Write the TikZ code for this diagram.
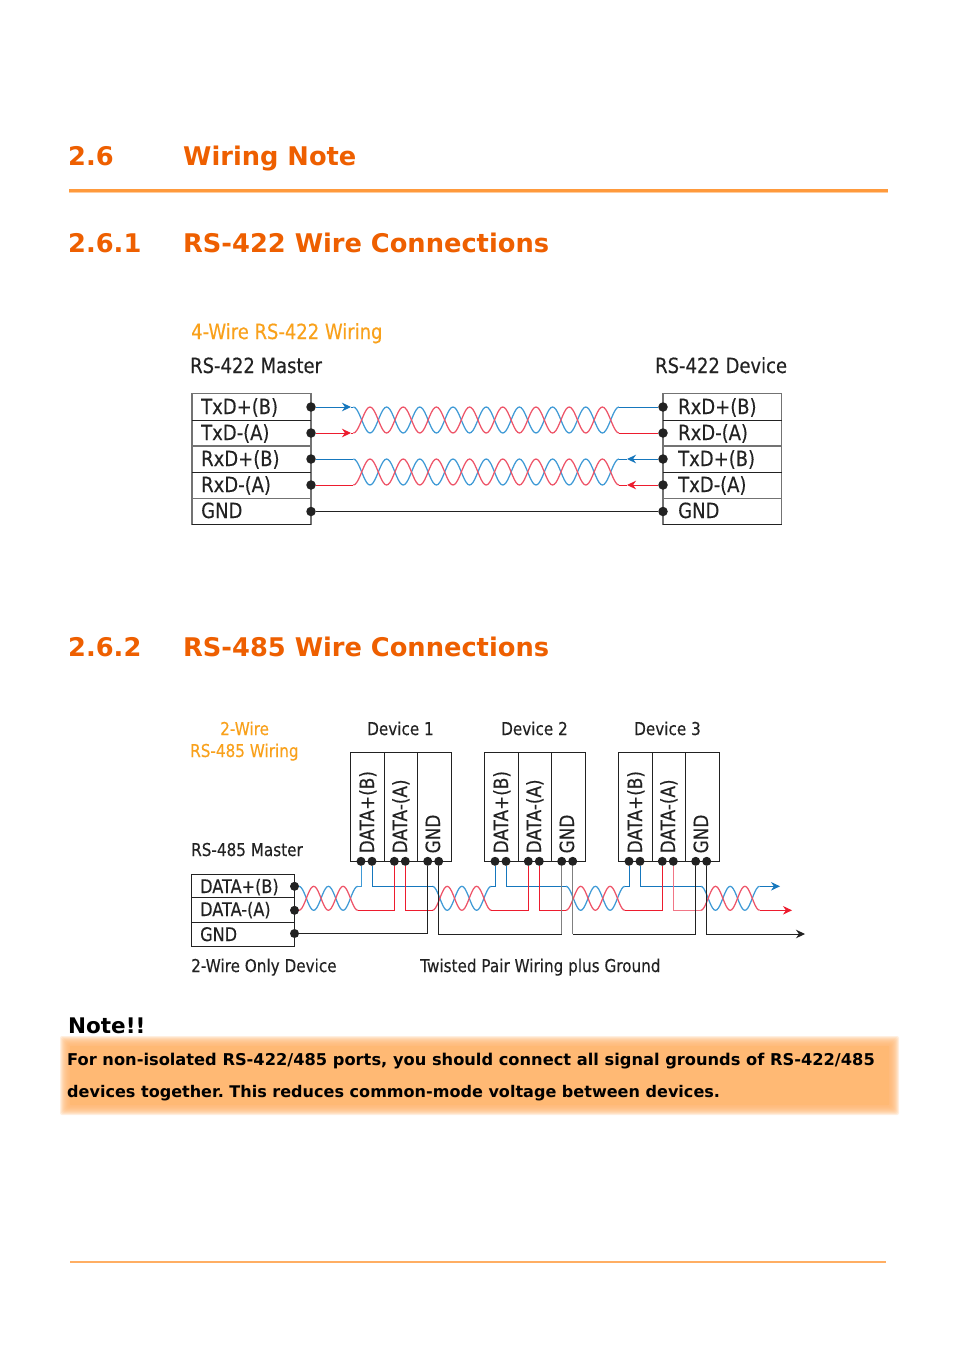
\documentclass[tikz,border=0pt]{standalone}
\usepackage{fontspec}
\setmainfont{DejaVu Sans}
\newfontfamily\diagf[FakeStretch=0.86,FakeBold=0.25]{DejaVu Sans}
\usetikzlibrary{arrows.meta}
\definecolor{headc}{HTML}{EE5F00}
\definecolor{rulec}{HTML}{FF9A3C}
\definecolor{titc}{HTML}{F9A11B}
\definecolor{wblue}{HTML}{1677BD}
\definecolor{wred}{HTML}{ED1C2E}
\definecolor{tblue}{HTML}{3F9AD6}
\definecolor{tred}{HTML}{EE5468}
\definecolor{ink}{HTML}{222222}
\definecolor{notec}{HTML}{FFB974}
\tikzset{
  x=1pt,y=-1pt,
  head/.style={anchor=base west,inner sep=0,text=headc,font=\fontsize{25.7}{25}\selectfont\bfseries},
  dtxt/.style={anchor=base west,inner sep=0,text=ink,font=\diagf\fontsize{20.9}{20}\selectfont},
  dtxs/.style={anchor=base west,inner sep=0,text=ink,font=\diagf\fontsize{17.7}{20}\selectfont},
  dtxm/.style={dtxs,font=\diagf\fontsize{18.7}{20}\selectfont},
  dtit/.style={dtxt,text=titc},
  dtis/.style={dtxs,text=titc},
  rtxt/.style={anchor=base west,inner sep=0,text=ink,rotate=90,font=\diagf\fontsize{19.6}{20}\selectfont},
  dot/.style={circle,fill=ink,draw=none,inner sep=0,minimum size=9.5pt},
  dots/.style={dot,minimum size=9pt},
  box/.style={draw=ink,line width=1pt},
  boxg/.style={draw=black!55,line width=1.1pt},
  bw/.style={draw=wblue,line width=1pt},
  rw/.style={draw=wred,line width=1pt},
  gw/.style={draw=ink,line width=1pt},
  gg/.style={draw=black!50,line width=1pt},
  bwl/.style={draw=tblue,line width=1pt},
  rwl/.style={draw=tred!80,line width=1pt},
  tipb/.style={-{Stealth[length=9pt,width=8.5pt]},draw=wblue,line width=1pt},
  tipr/.style={-{Stealth[length=9pt,width=8.5pt]},draw=wred,line width=1pt},
  tipk/.style={-{Stealth[length=9pt,width=8.5pt]},draw=ink,line width=1pt},
}
% name, x0, ytop, ybot, half periods, half period length
\newcommand{\twistpair}[6]{%
  \pgfmathsetmacro{\xend}{#2+#5*#6}
  \pgfmathsetmacro{\ymid}{(#3+#4)/2}
  \pgfmathsetmacro{\amp}{(#4-#3)/2}
  \pgfmathtruncatemacro{\nsam}{#5*10+1}
  \draw[tblue,line width=1.25pt] plot[domain=0:#5,samples=\nsam,smooth] ({#2+\x*#6},{\ymid-\amp*cos(180*\x)});
  \draw[tred,line width=1.25pt] plot[domain=0:#5,samples=\nsam,smooth] ({#2+\x*#6},{\ymid+\amp*cos(180*\x)});
  \coordinate (#1tl) at (#2,#3);
  \coordinate (#1bl) at (#2,#4);
  \coordinate (#1tr) at (\xend,#3);
  \coordinate (#1br) at (\xend,#4);
}
\begin{document}
\begin{tikzpicture}
\frenchspacing
\useasboundingbox (0,0) rectangle (954,1350);
\fill[white] (0,0) rectangle (954,1350);
% headings
\node[head] (h1n) at (68,165) {2.6};
\node[head] (h1t) at (183,165) {Wiring Note};
\draw[rulec!50,line width=4pt] (69,190.5) -- (888,190.5);
\draw[rulec,line width=2.4pt] (69,190.5) -- (888,190.5);
\node[head] (h2n) at (68,252) {2.6.1};
\node[head] (h2t) at (183,252) {RS-422 Wire Connections};
\node[head] (h3n) at (68,656) {2.6.2};
\node[head] (h3t) at (183,656) {RS-485 Wire Connections};
% ---------- RS-422
\node[dtit] (t422) at (191,339) {4-Wire RS-422 Wiring};
\node[dtxt] (m422) at (190,373) {RS-422 Master};
\node[dtxt] (d422) at (655,373) {RS-422 Device};
% left box
\draw[boxg] (192,525) -- (192,393.7) -- (311,393.7) -- (311,525);
\draw[box] (192,420.3) -- (311,420.3) (192,472.3) -- (311,472.3) (192,524.7) -- (311,524.7);
\draw[boxg] (192,446) -- (311,446) (192,498.7) -- (311,498.7);
% right box
\draw[boxg] (663,525) -- (663,393.7) -- (781.7,393.7) -- (781.7,525);
\draw[box] (663,420.3) -- (781.7,420.3) (663,472.3) -- (781.7,472.3) (663,524.7) -- (781.7,524.7);
\draw[boxg] (663,446) -- (781.7,446) (663,498.7) -- (781.7,498.7);
\foreach \n/\y/\s in {a/414/TxD+(B),b/440/TxD-(A),c/466/RxD+(B),d/492/RxD-(A),e/518/GND}{
  \node[dtxt] (l\n) at (201,\y) {\s};
}
\foreach \n/\y/\s in {a/414/RxD+(B),b/440/RxD-(A),c/466/TxD+(B),d/492/TxD-(A),e/518/GND}{
  \node[dtxt] (r\n) at (678,\y) {\s};
}
\foreach \n/\y in {a/407,b/433,c/459,d/485,e/511.5}{
  \node[dot] (dl\n) at (311,\y) {};
  \node[dot] (dr\n) at (663,\y) {};
}
\twistpair{ta}{353.4}{407}{433}{16}{16.6}
\twistpair{tb}{353.4}{459}{485}{16}{16.6}
\coordinate (aa) at (351,407);
\coordinate (ab) at (351,433);
\coordinate (ac) at (627,459);
\coordinate (ad) at (627,485);
\draw[tipb] (dla) -- (aa);
\draw[bw] (aa) -- (tatl);
\draw[tipr] (dlb) -- (ab);
\draw[rw] (ab) -- (tabl);
\draw[bw] (dlc) -- (tbtl);
\draw[rw] (dld) -- (tbbl);
\draw[bw] (tatr) -- (dra);
\draw[rw] (tabr) -- (drb);
\draw[tipb] (drc) -- (ac);
\draw[bw] (ac) -- (tbtr);
\draw[tipr] (drd) -- (ad);
\draw[rw] (ad) -- (tbbr);
\draw[gw] (dle) -- (dre);
% ---------- RS-485
\node[dtis] (t485a) at (220,735) {2-Wire};
\node[dtis] (t485b) at (190,757) {RS-485 Wiring};
\node[dtxs] (m485) at (191,856) {RS-485 Master};
\node[dtxs] (dv1) at (367,735) {Device 1};
\node[dtxs] (dv2) at (501,735) {Device 2};
\node[dtxs] (dv3) at (634,735) {Device 3};
\node[dtxs] (only) at (191,972) {2-Wire Only Device};
\node[dtxs] (twp) at (420,972) {Twisted Pair Wiring plus Ground};
% master box
\draw[box] (191.3,874) rectangle (294,946.5);
\draw[box] (191.3,897.3) -- (294,897.3) (191.3,922) -- (294,922);
\node[dtxm] (ma) at (200,893) {DATA+(B)};
\node[dtxm] (mb) at (200,916) {DATA-(A)};
\node[dtxm] (mc) at (200,941) {GND};
\node[dots] (mda) at (294.5,886.3) {};
\node[dots] (mdb) at (294.5,910.3) {};
\node[dots] (mdc) at (294.5,933.5) {};
% devices
\foreach \k/\x in {1/350,2/484,3/618}{
  \draw[box] (\x,861.3) -- (\x,752.5) -- (\x+101,752.5) -- (\x+101,861.3) -- cycle;
  \draw[box] (\x+34,752.5) -- (\x+34,861.3) (\x+67,752.5) -- (\x+67,861.3);
  \node[rtxt] (da\k) at (\x+24,853.5) {DATA+(B)};
  \node[rtxt] (db\k) at (\x+57,853.5) {DATA-(A)};
  \node[rtxt] (dc\k) at (\x+90,853.5) {GND};
  \node[dots] (p\k a) at (\x+11,861.3) {};
  \node[dots] (p\k b) at (\x+22,861.3) {};
  \node[dots] (p\k c) at (\x+44.3,861.3) {};
  \node[dots] (p\k d) at (\x+55.3,861.3) {};
  \node[dots] (p\k e) at (\x+77.7,861.3) {};
  \node[dots] (p\k f) at (\x+88.7,861.3) {};
}
\twistpair{s}{299}{886.3}{910.3}{4}{14.7}
\twistpair{u}{432.5}{886.3}{910.3}{4}{14.7}
\twistpair{v}{566}{886.3}{910.3}{4}{14.7}
\twistpair{w}{700.8}{886.3}{910.3}{4}{14.7}
\coordinate (endb) at (780,886.3);
\coordinate (endr) at (792,910.3);
\coordinate (endk) at (805,934);
% blue
\draw[bwl] (p1a) |- (str);
\draw[bw] (p1b) |- (utl);
\draw[bw] (p2a) |- (utr);
\draw[bw] (p2b) |- (vtl);
\draw[bw] (p3a) |- (vtr);
\draw[bw] (p3b) |- (wtl);
% red
\draw[rw] (p1c) |- (sbr);
\draw[rw] (p1d) |- (ubl);
\draw[rw] (p2c) |- (ubr);
\draw[rw] (p2d) |- (vbl);
\draw[rw] (p3c) |- (vbr);
\draw[rwl] (p3d) |- (wbl);
% ends
\draw[tipb] (wtr) -- (endb);
\draw[tipr] (wbr) -- (endr);
% ground
\draw[gw] (mdc) -| (p1e);
\draw[gw] (p1f) |- (p2e |- 0,934);
\draw[gg] (p2e) -- (p2e |- 0,934);
\draw[gg] (p2f) -- (p2f |- 0,934);
\draw[gw] (p2f |- 0,934) -- (p3e |- 0,934);
\draw[gw] (p3e) -- (p3e |- 0,934);
\draw[tipk] (p3f) |- (endk);
% ---------- Note
\node[anchor=base west,inner sep=0,text=black,font=\fontsize{21.5}{22}\selectfont\bfseries] (ntit) at (68,1033) {Note!!};
\foreach \d in {5,4,...,-5}{
  \fill[notec,opacity=.22,rounded corners=2pt] (65-\d,1041-\d) rectangle (894+\d,1110+\d);
}
\fill[notec] (70,1046) rectangle (889,1105);
\node[anchor=base west,inner sep=0,text=black,font=\fontsize{16.25}{17}\selectfont\bfseries] (n1) at (67,1065) {For non-isolated RS-422/485 ports, you should connect all signal grounds of RS-422/485};
\node[anchor=base west,inner sep=0,text=black,font=\fontsize{16.05}{17}\selectfont\bfseries] (n2) at (67,1097) {devices together. This reduces common-mode voltage between devices.};
\draw[rulec!80,line width=1.6pt] (70,1262) -- (886,1262);
\end{tikzpicture}
\end{document}
